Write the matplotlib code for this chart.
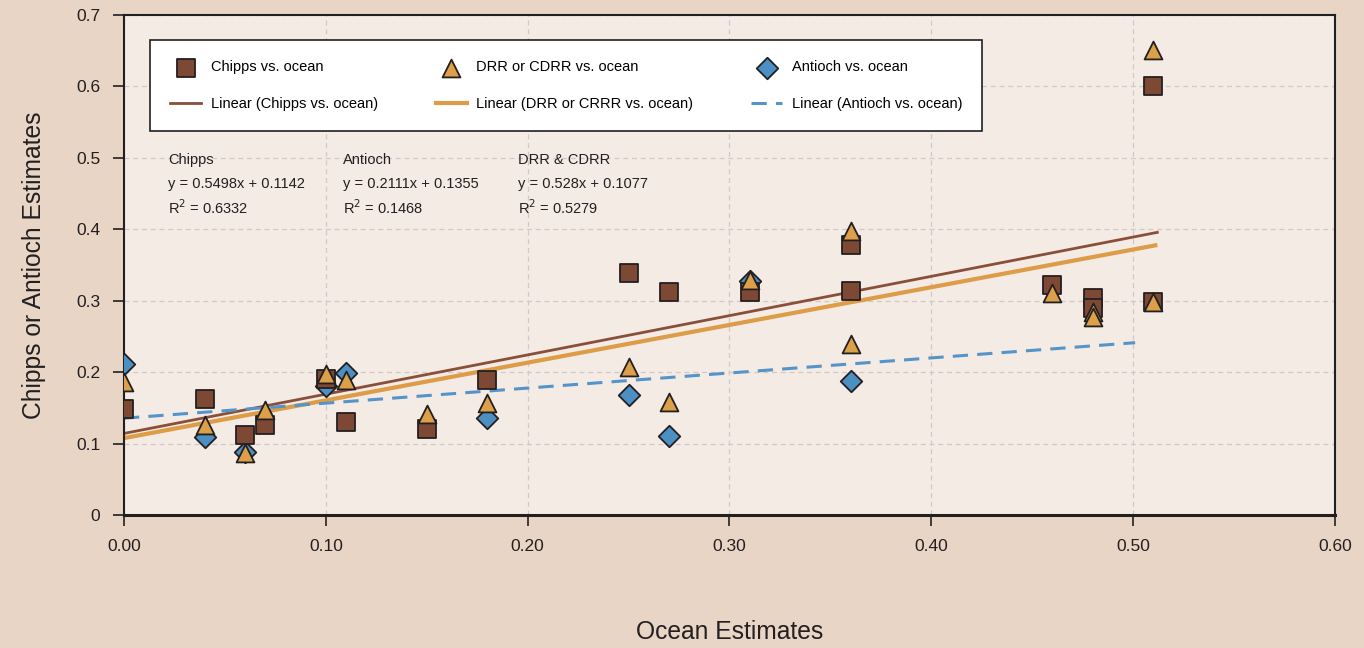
import numpy as np
import matplotlib.pyplot as plt

plt.rcParams['font.family'] = ['Liberation Sans', 'DejaVu Sans']

# Scatter data
chipps_x = [0.00, 0.04, 0.06, 0.07, 0.10, 0.11, 0.15, 0.18, 0.25, 0.27, 0.31, 0.36, 0.36, 0.46, 0.48, 0.48, 0.51, 0.51]
chipps_y = [0.148, 0.162, 0.112, 0.126, 0.190, 0.130, 0.120, 0.189, 0.339, 0.312, 0.312, 0.378, 0.313, 0.322, 0.304, 0.290, 0.298, 0.600]

drr_x = [0.00, 0.04, 0.06, 0.07, 0.10, 0.11, 0.15, 0.18, 0.25, 0.27, 0.31, 0.36, 0.36, 0.46, 0.48, 0.48, 0.51, 0.51]
drr_y = [0.186, 0.126, 0.087, 0.147, 0.198, 0.189, 0.141, 0.157, 0.207, 0.158, 0.329, 0.398, 0.239, 0.311, 0.284, 0.277, 0.298, 0.651]

antioch_x = [0.00, 0.04, 0.06, 0.10, 0.11, 0.18, 0.25, 0.27, 0.31, 0.36]
antioch_y = [0.211, 0.109, 0.088, 0.181, 0.199, 0.136, 0.168, 0.111, 0.327, 0.188]

# Trendline coefficients (as printed on the chart) and plotted x range
fit_names = ['Chipps', 'Antioch', 'DRR & CDRR']
fit_slope = [0.5498, 0.2111, 0.528]
fit_icept = [0.1142, 0.1355, 0.1077]
fit_r2 = ['0.6332', '0.1468', '0.5279']
fit_xmax = [0.512, 0.501, 0.511]

legend_labels = ['Chipps vs. ocean', 'Linear (Chipps vs. ocean)',
                 'DRR or CDRR vs. ocean', 'Linear (DRR or CRRR vs. ocean)',
                 'Antioch vs. ocean', 'Linear (Antioch vs. ocean)']

c_brown = '#7d4834'
c_orange = '#dca049'
c_blue = '#4c8fc3'
c_edge = '#231f20'

fig = plt.figure(figsize=(13.64, 6.48), dpi=100, facecolor='#e8d5c6')
ax = fig.add_axes([0.0909, 0.2052, 0.8878, 0.7717], facecolor='#f4ebe5')

# trendlines
xl = np.array([0, fit_xmax[0]])
l_chipps, = ax.plot(xl, fit_slope[0] * xl + fit_icept[0], color='#8a4f38', lw=2, zorder=2)
xl = np.array([0, fit_xmax[2]])
l_drr, = ax.plot(xl, fit_slope[2] * xl + fit_icept[2], color='#dc9c48', lw=3, zorder=2)
xl = np.array([0, fit_xmax[1]])
l_ant, = ax.plot(xl, fit_slope[1] * xl + fit_icept[1], color='#5494c8', lw=2.2, ls=(0, (5, 3)), zorder=2)

s_ant = ax.scatter(antioch_x, antioch_y, marker='D', s=120, color=c_blue, edgecolor=c_edge, linewidth=1.3, zorder=3)
s_chipps = ax.scatter(chipps_x, chipps_y, marker='s', s=150, color=c_brown, edgecolor=c_edge, linewidth=1.3, zorder=4)
s_drr = ax.scatter(drr_x, drr_y, marker='^', s=165, color=c_orange, edgecolor=c_edge, linewidth=1.3, zorder=5)

ax.set_xlim(0, 0.6)
ax.set_ylim(0, 0.7)
ax.set_xticks(np.arange(0, 0.61, 0.1))
ax.set_xticklabels([f'{v:.2f}' for v in np.arange(0, 0.61, 0.1)])
ax.set_yticks(np.arange(0, 0.71, 0.1))
ax.set_yticklabels(['0'] + [f'{v:.1f}' for v in np.arange(0.1, 0.71, 0.1)])
ax.tick_params(direction='out', length=8, width=1.2, colors='#231f20', labelsize=12.5, pad=9)
ax.grid(True, color='#cfcac6', ls=(0, (4, 3)), lw=0.9)
ax.set_axisbelow(True)
for sp in ax.spines.values():
    sp.set_color('#231f20')
    sp.set_linewidth(1.5)
ax.spines['bottom'].set_linewidth(2.2)

ax.set_xlabel('Ocean Estimates', fontsize=17.7, color='#231f20', labelpad=48)
ax.set_ylabel('Chipps or Antioch Estimates', fontsize=17.7, color='#231f20', labelpad=22)

leg = ax.legend([s_chipps, l_chipps, s_drr, l_drr, s_ant, l_ant], legend_labels,
                ncol=3, loc='upper left', bbox_to_anchor=(0.0215, 0.95), borderaxespad=0,
                fontsize=10.5, frameon=True, fancybox=False, edgecolor='#231f20',
                facecolor='white', framealpha=1, borderpad=1.4, labelspacing=1.55,
                columnspacing=4.0, handlelength=2.1, handletextpad=0.65)
leg.get_frame().set_linewidth(1.2)

# equation annotations
ann_x = [0.022, 0.1085, 0.195]
for i in range(3):
    ax.text(ann_x[i], 0.497, fit_names[i], fontsize=10.5, color='#231f20', va='center')
    ax.text(ann_x[i], 0.463, f'y = {fit_slope[i]}x + {fit_icept[i]}', fontsize=10.5, color='#231f20', va='center')
    ax.text(ann_x[i], 0.430, f'R$^2$ = {fit_r2[i]}', fontsize=10.5, color='#231f20', va='center')

fig.savefig('out.png', dpi=100, facecolor=fig.get_facecolor())
